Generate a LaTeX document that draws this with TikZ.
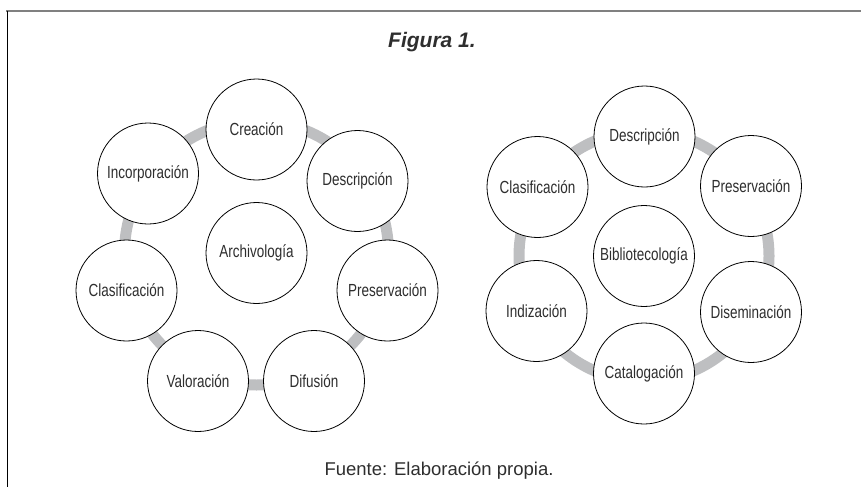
\documentclass[tikz,border=0pt]{standalone}
\usepackage{fontspec}
\setmainfont{Liberation Sans}
\newfontfamily\narrowfont[FakeStretch=0.77]{Liberation Sans}
\definecolor{ringgray}{HTML}{BEBFC1}
\definecolor{textgray}{HTML}{2E2E2E}

\begin{document}
\begin{tikzpicture}[x=1pt,y=-1pt,every node/.style={circle,draw,line width=0.8pt,fill=white,minimum size=101pt,inner sep=0pt,text=textgray,font=\narrowfont\fontsize{17.5}{21}\selectfont}]
        \tikzset{ring/.style = {draw=ringgray,line width=11pt}}
        \tikzset{caption/.style = {rectangle,draw=none,fill=none,minimum size=0pt,anchor=base,text=textgray}}
        \useasboundingbox (0,0) rectangle (861,487);
        \draw[gray,line width=1.4pt] (6.3,11) -- (861,11);
        \draw[black,line width=0.9pt] (7,11) -- (7,487);

        \node[caption,font=\fontsize{21}{24}\selectfont\bfseries\itshape] (title) at (432,48) {Figura 1.};
        \node[caption,font=\fontsize{18.5}{21}\selectfont] (source) at (439,475) {Fuente: Elaboración propia.};

        % Archivología
        \node (arch) at (256.5,253) {Archivología};
        \draw[ring] (arch) circle (132);
        \node (crea) at (256.5,129.5) {Creación};
        \node (descA) at (357.5,181) {Descripción};
        \node (presA) at (387.5,290.5) {Preservación};
        \node (difu) at (314,381) {Difusión};
        \node (valo) at (198,381) {Valoración};
        \node (clasA) at (126.5,290.5) {Clasificación};
        \node (inco) at (148,173.5) {Incorporación};

        % Bibliotecología
        \node (bibl) at (644,256) {Bibliotecología};
        \draw[ring] (bibl) circle (125);
        \node (descB) at (644.5,136.5) {Descripción};
        \node (presB) at (751,186) {Preservación};
        \node (dise) at (751,312) {Diseminación};
        \node (cata) at (644,373.5) {Catalogación};
        \node (indi) at (536.5,311) {Indización};
        \node (clasB) at (537.5,187) {Clasificación};
\end{tikzpicture}
\end{document}
